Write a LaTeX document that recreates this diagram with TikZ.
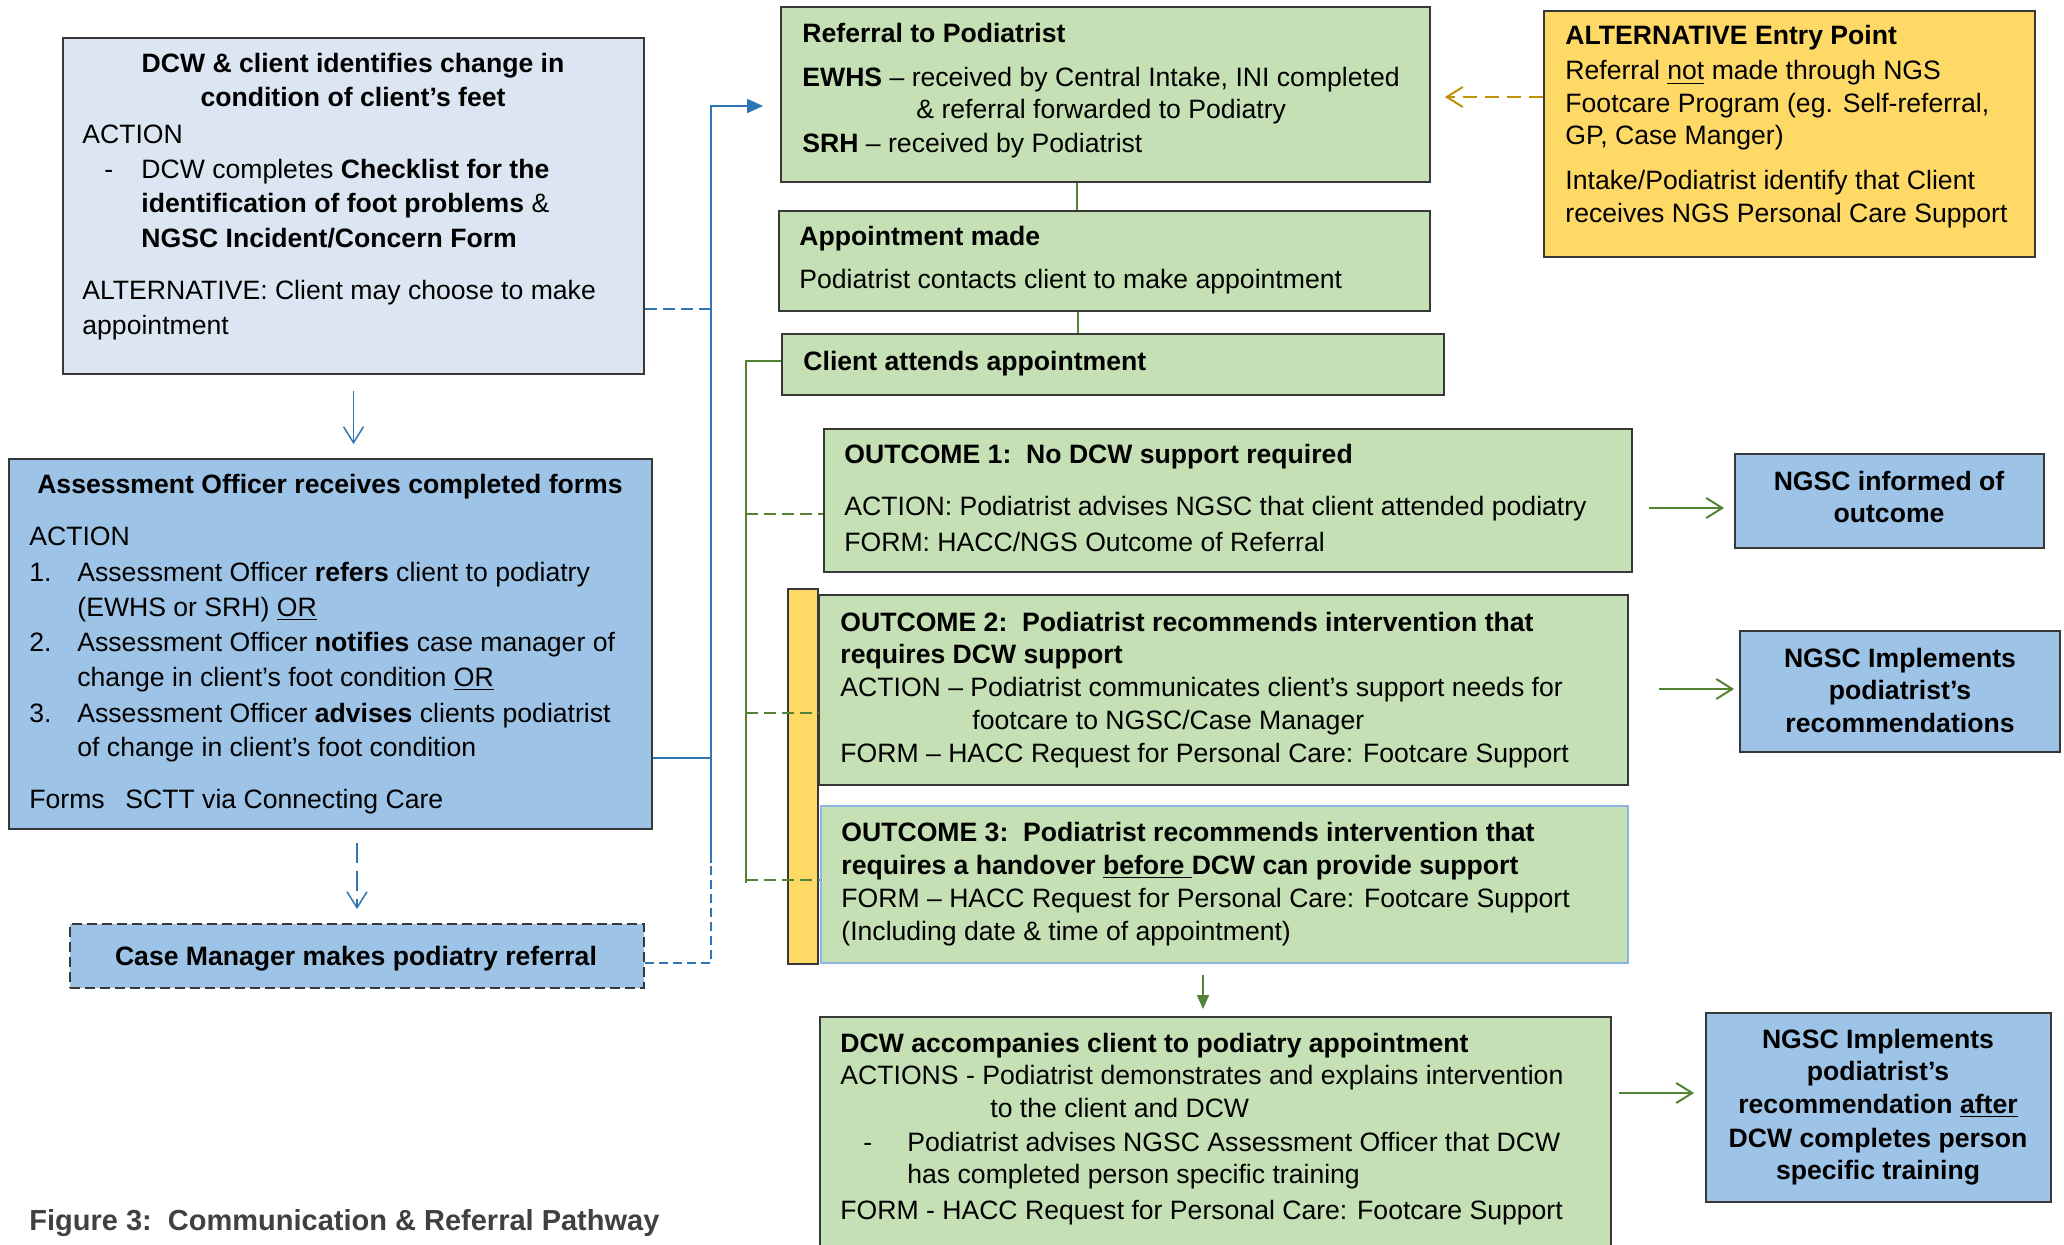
\documentclass[tikz,border=0pt]{standalone}
\usepackage{fontspec}
\setmainfont{Liberation Sans}
\usetikzlibrary{arrows.meta,fit}
\newcommand{\fs}{\fontsize{13.3pt}{16pt}\selectfont}
\definecolor{lblue}{HTML}{DCE6F2}
\definecolor{mblue}{HTML}{9DC3E6}
\definecolor{lgreen}{HTML}{C5E0B4}
\definecolor{gold}{HTML}{FFD966}
\definecolor{edge}{HTML}{383838}
\definecolor{bline}{HTML}{2E75B6}
\definecolor{gline}{HTML}{548235}
\definecolor{goldline}{HTML}{BF9000}
\definecolor{capgray}{HTML}{404040}
\definecolor{othreeedge}{HTML}{8EB4E3}
\begin{document}
\begin{tikzpicture}[x=0.5pt,y=-0.5pt,
  box/.style={draw=edge, line width=0.9pt, inner sep=0pt},
  bluebox/.style={box, fill=mblue},
  greenbox/.style={box, fill=lgreen},
  tx/.style={anchor=base west, inner sep=0pt, font=\fs},
  ctb/.style={anchor=base, inner sep=0pt, font=\fs\bfseries},
  bl/.style={draw=bline, line width=0.75pt},
  gl/.style={draw=gline, line width=0.75pt},
  gdash/.style={dash pattern=on 6pt off 3pt},
  vhead/.style={-{Straight Barb[length=8pt,width=10pt]}},
  fhead/.style={-{Triangle[length=8pt,width=7pt]}}
]
\useasboundingbox (0,0) rectangle (2064,1245);

% ---------- boxes ----------
\node[box, fill=lblue, fit={(63,38) (644,374)}] (A) {};
\node[bluebox, fit={(9,459) (652,829)}] (B) {};
\node[bluebox, dash pattern=on 5pt off 2.5pt, fit={(70,924) (644,988)}] (CM) {};
\node[greenbox, fit={(781,7) (1430,182)}] (R) {};
\node[greenbox, fit={(779,211) (1430,311)}] (AP) {};
\node[greenbox, fit={(782,334) (1444,395)}] (CA) {};
\node[box, fill=gold, fit={(1544,11) (2035,257)}] (ALT) {};
\node[greenbox, fit={(824,429) (1632,572)}] (O1) {};
\node[box, fill=gold, fit={(788,589) (818,964)}] (Y) {};
\node[greenbox, fit={(819,595) (1628,785)}] (O2) {};
\node[draw=othreeedge, line width=0.7pt, inner sep=0pt, fill=lgreen, fit={(821,806) (1628,963)}] (O3) {};
\node[greenbox, fit={(820,1017) (1611,1252)}] (D) {};
\node[bluebox, fit={(1735,454) (2044,548)}] (N1) {};
\node[bluebox, fit={(1740,631) (2060,752)}] (N2) {};
\node[bluebox, fit={(1706,1013) (2051,1202)}] (N3) {};

% ---------- blue connectors ----------
\coordinate (tTop) at (711,106);
\coordinate (jA) at (711,309);
\coordinate (jB) at (711,758);
\coordinate (tDash) at (711,863);
\coordinate (tBot) at (711,963);
\draw[bl, dash pattern=on 6pt off 3pt] (A.east |- jA) -- (jA);
\draw[bl] (B.east |- jB) -- (jB);
\draw[bl, dash pattern=on 4.5pt off 2.5pt] (CM.east |- tBot) -- (tBot) -- (tDash);
\draw[bl, fhead, shorten >=8.5pt] (tDash) -- (tTop) -- (R.west |- tTop);
\draw[bl, vhead, shorten <=8pt, shorten >=7pt] (A.south) -- (A.south |- B.north);
\draw[bl, vhead, dash pattern=on 10pt off 4pt, shorten <=6.5pt, shorten >=7pt] (CM.north |- B.south) -- (CM.north);

% ---------- gold connector ----------
\coordinate (gy) at (1500,97);
\draw[draw=goldline, line width=1pt, dash pattern=on 7pt off 4pt, vhead, shorten >=7pt] (ALT.west |- gy) -- (R.east |- gy);

% ---------- green connectors ----------
\coordinate (g1) at (1077,200);
\coordinate (g2) at (1078,320);
\draw[gl] (R.south -| g1) -- (AP.north -| g1);
\draw[gl] (AP.south -| g2) -- (CA.north -| g2);
\coordinate (gT) at (746,361);
\coordinate (gB) at (746,883);
\draw[gl] (CA.west |- gT) -- (gT) -- (gB);
\coordinate (gd1) at (746,514);
\coordinate (gd2) at (746,713);
\coordinate (gd3) at (746,880);
\draw[gl, gdash] (gd1) -- (gd1 -| O1.west);
\draw[gl, gdash] (gd2) -- (gd2 -| O2.west);
\draw[gl, gdash] (gd3) -- (gd3 -| O3.west);
\coordinate (g3) at (1203,990);
\draw[gl, -{Triangle[length=7pt,width=6pt]}, shorten <=5.5pt, shorten >=3.5pt] (O3.south -| g3) -- (D.north -| g3);
\coordinate (ar1) at (1690,508);
\coordinate (ar2) at (1690,689);
\coordinate (ar3) at (1660,1093);
\draw[gl, line width=1pt, vhead, shorten <=8pt, shorten >=5pt] (O1.east |- ar1) -- (N1.west |- ar1);
\draw[gl, line width=1pt, vhead, shorten <=15pt, shorten >=2.5pt] (O2.east |- ar2) -- (N2.west |- ar2);
\draw[gl, line width=1pt, vhead, shorten <=3.5pt, shorten >=5.5pt] (D.east |- ar3) -- (N3.west |- ar3);

% ---------- text: box A ----------
\node[ctb] (tA1) at (353,73) {DCW \& client identifies change in};
\node[ctb] (tA2) at (353,107) {condition of client’s feet};
\node[tx] (tA3) at (82,144) {ACTION};
\node[tx] (tA4) at (104,179) {-};
\node[tx] (tA5) at (141,179) {DCW completes \textbf{Checklist for the}};
\node[tx] (tA6) at (141,213) {\textbf{identification of foot problems} \&};
\node[tx] (tA7) at (141,248) {\textbf{NGSC Incident/Concern Form}};
\node[tx] (tA8) at (82,300) {ALTERNATIVE: Client may choose to make};
\node[tx] (tA9) at (82,335) {appointment};

% ---------- text: box B ----------
\node[ctb] (tB1) at (330,494) {Assessment Officer receives completed forms};
\node[tx] (tB2) at (29,545) {ACTION};
\node[tx] (tB3) at (29,581) {1.};
\node[tx] (tB4) at (77,581) {Assessment Officer \textbf{refers} client to podiatry};
\node[tx] (tB5) at (77,616) {(EWHS or SRH) \underline{OR}};
\node[tx] (tB6) at (29,651) {2.};
\node[tx] (tB7) at (77,651) {Assessment Officer \textbf{notifies} case manager of};
\node[tx] (tB8) at (77,686) {change in client’s foot condition \underline{OR}};
\node[tx] (tB9) at (29,722) {3.};
\node[tx] (tB10) at (77,722) {Assessment Officer \textbf{advises} clients podiatrist};
\node[tx] (tB11) at (77,756) {of change in client’s foot condition};
\node[tx] (tB12) at (29,808) {Forms};
\node[tx] (tB13) at (125,808) {SCTT via Connecting Care};

% ---------- text: case manager ----------
\node[ctb] (tCM) at (356,965) {Case Manager makes podiatry referral};

% ---------- text: referral / appointment / attends ----------
\node[tx] (tR1) at (802,43) {\textbf{Referral to Podiatrist}};
\node[tx] (tR2) at (802,87) {\textbf{EWHS} – received by Central Intake, INI completed};
\node[tx] (tR3) at (916,119) {\& referral forwarded to Podiatry};
\node[tx] (tR4) at (802,153) {\textbf{SRH} – received by Podiatrist};
\node[tx] (tAP1) at (799,246) {\textbf{Appointment made}};
\node[tx] (tAP2) at (799,289) {Podiatrist contacts client to make appointment};
\node[tx] (tCA) at (803,371) {\textbf{Client attends appointment}};

% ---------- text: alternative ----------
\node[tx] (tL1) at (1565,45) {\textbf{ALTERNATIVE Entry Point}};
\node[tx] (tL2) at (1565,80) {Referral \underline{not} made through NGS};
\node[tx] (tL3) at (1565,113) {Footcare Program (eg. Self-referral,};
\node[tx] (tL4) at (1565,145) {GP, Case Manger)};
\node[tx] (tL5) at (1565,190) {Intake/Podiatrist identify that Client};
\node[tx] (tL6) at (1565,223) {receives NGS Personal Care Support};

% ---------- text: outcomes ----------
\node[tx] (tO11) at (844,464) {\textbf{OUTCOME 1:\ \ No DCW support required}};
\node[tx] (tO12) at (844,516) {ACTION: Podiatrist advises NGSC that client attended podiatry};
\node[tx] (tO13) at (844,551) {FORM: HACC/NGS Outcome of Referral};

\node[tx] (tO21) at (840,631) {\textbf{OUTCOME 2:\ \ Podiatrist recommends intervention that}};
\node[tx] (tO22) at (840,663) {\textbf{requires DCW support}};
\node[tx] (tO23) at (840,696) {ACTION – Podiatrist communicates client’s support needs for};
\node[tx] (tO24) at (972,729) {footcare to NGSC/Case Manager};
\node[tx] (tO25) at (840,762) {FORM – HACC Request for Personal Care: Footcare Support};

\node[tx] (tO31) at (841,841) {\textbf{OUTCOME 3:\ \ Podiatrist recommends intervention that}};
\node[tx] (tO32) at (841,874) {\textbf{requires a handover \underline{before\ }DCW can provide support}};
\node[tx] (tO33) at (841,907) {FORM – HACC Request for Personal Care: Footcare Support};
\node[tx] (tO34) at (841,940) {(Including date \& time of appointment)};

% ---------- text: DCW accompanies ----------
\node[tx] (tD1) at (840,1052) {\textbf{DCW accompanies client to podiatry appointment}};
\node[tx] (tD2) at (840,1084) {ACTIONS - Podiatrist demonstrates and explains intervention};
\node[tx] (tD3) at (990,1117) {to the client and DCW};
\node[tx] (tD4) at (863,1151) {-};
\node[tx] (tD5) at (907,1151) {Podiatrist advises NGSC Assessment Officer that DCW};
\node[tx] (tD6) at (907,1183) {has completed person specific training};
\node[tx] (tD7) at (840,1219) {FORM - HACC Request for Personal Care: Footcare Support};

% ---------- text: NGSC boxes ----------
\node[ctb] (tN11) at (1889,490) {NGSC informed of};
\node[ctb] (tN12) at (1889,522) {outcome};
\node[ctb] (tN21) at (1900,667) {NGSC Implements};
\node[ctb] (tN22) at (1900,699) {podiatrist’s};
\node[ctb] (tN23) at (1900,732) {recommendations};
\node[ctb] (tN31) at (1878,1048) {NGSC Implements};
\node[ctb] (tN32) at (1878,1080) {podiatrist’s};
\node[ctb] (tN33) at (1878,1113) {recommendation \underline{after}};
\node[ctb] (tN34) at (1878,1147) {DCW completes person};
\node[ctb] (tN35) at (1878,1179) {specific training};

% ---------- caption ----------
\node[anchor=base west, inner sep=0pt, text=capgray, font=\fontsize{14.5pt}{17pt}\selectfont\bfseries] (cap) at (29,1230) {Figure 3:\ \ Communication \& Referral Pathway};
\end{tikzpicture}
\end{document}
